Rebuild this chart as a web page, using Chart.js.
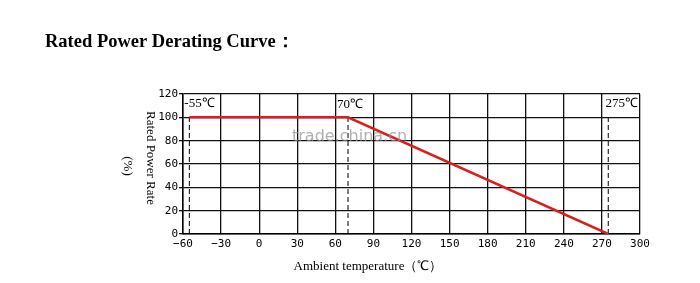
<!DOCTYPE html>
<html>
<head>
<meta charset="utf-8">
<script src="https://cdn.jsdelivr.net/npm/chart.js@4.4.0/dist/chart.umd.min.js"></script>
<style>
  html, body { margin: 0; padding: 0; background: #fff; }
  #wrap { width: 700px; height: 283px; }
</style>
</head>
<body>
<div id="wrap"><canvas id="myChart"></canvas></div>
<script>
var curveTemps = [-55, 70, 275];
var curvePower = [100, 100, 0];
var markTemps = [-55, 70, 275];
var markLabels = ['-55℃', '70℃', '275℃'];
var xTicks = [-60, -30, 0, 30, 60, 90, 120, 150, 180, 210, 240, 270, 300];
var yTicks = [0, 20, 40, 60, 80, 100, 120];

var curve = curveTemps.map(function (t, i) { return { x: t, y: curvePower[i] }; });

var markSets = markTemps.map(function (t) {
    return {
        data: [{ x: t, y: 0 }, { x: t, y: 100 }],
        borderColor: '#000',
        borderWidth: 1,
        borderDash: [5, 3],
        pointRadius: 0
    };
});

var textPlugin = {
    id: 'texts',
    afterDraw: function (chart) {
        var c = chart.ctx;
        var xs = chart.scales.x;
        c.save();
        c.fillStyle = '#000';
        c.font = 'bold 18.5px "Liberation Serif", serif';
        c.textBaseline = 'middle';
        c.fillText('Rated Power Derating Curve：', 45, 42);

        c.font = '13px "Liberation Serif", serif';
        c.textAlign = 'center';
        c.fillText('Ambient temperature（℃）', 368, 267);

        // mark labels
        c.textAlign = 'left';
        c.fillText(markLabels[0], xs.getPixelForValue(markTemps[0]) - 5, 104);
        c.fillText(markLabels[1], xs.getPixelForValue(markTemps[1]) - 11, 105);
        c.textAlign = 'right';
        c.fillText(markLabels[2], chart.chartArea.right - 2, 104);

        // watermark
        c.textAlign = 'left';
        c.fillStyle = 'rgba(150,150,150,0.75)';
        c.font = '16px "DejaVu Sans", sans-serif';
        c.fillText('trade.china.cn', 292, 137);

        // y title, reads top to bottom
        c.fillStyle = '#000';
        c.font = '13px "Liberation Serif", serif';
        c.textAlign = 'center';
        c.translate(150, 158);
        c.rotate(Math.PI / 2);
        c.fillText('Rated Power Rate', 0, 0);
        c.restore();
        c.save();
        c.font = '13px "Liberation Serif", serif';
        c.textAlign = 'center';
        c.textBaseline = 'middle';
        c.translate(127, 166);
        c.rotate(Math.PI / 2);
        c.fillText('(%)', 0, 0);
        c.restore();
    }
};

var ctx = document.getElementById('myChart').getContext('2d');
var myChart = new Chart(ctx, {
    type: 'line',
    data: {
        datasets: [{
            data: curve,
            borderColor: '#d91f1f',
            borderWidth: 2.5,
            pointRadius: 0,
            tension: 0
        }].concat(markSets)
    },
    options: {
        responsive: true,
        maintainAspectRatio: false,
        animation: false,
        layout: { padding: { top: 94, right: 60, left: 0, bottom: 0 } },
        plugins: {
            legend: { display: false },
            tooltip: { enabled: false }
        },
        scales: {
            x: {
                type: 'linear',
                min: xTicks[0],
                max: xTicks[xTicks.length - 1],
                afterBuildTicks: function (axis) {
                    axis.ticks = xTicks.map(function (v) { return { value: v }; });
                },
                afterFit: function (axis) { axis.height = 49; },
                grid: { color: '#111', lineWidth: 1.3, drawTicks: false },
                border: { color: '#000', width: 1.5 },
                ticks: {
                    padding: 4,
                    color: '#000',
                    maxRotation: 0,
                    autoSkip: false,
                    font: { family: '"DejaVu Sans Mono", monospace', size: 11 },
                    callback: function (v) { return v < 0 ? '−' + Math.abs(v) : String(v); }
                }
            },
            y: {
                min: yTicks[0],
                max: yTicks[yTicks.length - 1],
                afterBuildTicks: function (axis) {
                    axis.ticks = yTicks.map(function (v) { return { value: v }; });
                },
                afterFit: function (axis) { axis.width = 183; },
                grid: { color: '#111', lineWidth: 1.3, tickLength: 4 },
                border: { color: '#000', width: 1.5 },
                ticks: {
                    padding: 1,
                    color: '#000',
                    font: { family: '"DejaVu Sans Mono", monospace', size: 11 }
                }
            }
        }
    },
    plugins: [textPlugin]
});
</script>
</body>
</html>
